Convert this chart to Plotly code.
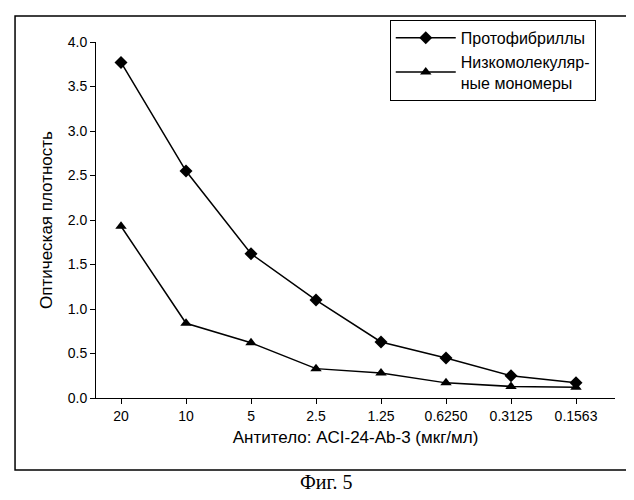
import plotly.graph_objects as go

categories = ["20", "10", "5", "2.5", "1.25", "0.6250", "0.3125", "0.1563"]
protofibrils = [3.77, 2.55, 1.62, 1.10, 0.63, 0.45, 0.25, 0.17]
monomers = [1.93, 0.84, 0.62, 0.33, 0.28, 0.17, 0.13, 0.12]

serif = "Liberation Serif, DejaVu Serif, serif"
sans = "Liberation Sans, Arial, sans-serif"
fig = go.Figure()
fig.add_trace(go.Scatter(x=list(range(8)), y=protofibrils, mode="lines+markers",
    name="Протофибриллы", line=dict(color="black", width=1.5),
    marker=dict(symbol="diamond", size=10, color="black")))
fig.add_trace(go.Scatter(x=list(range(8)), y=monomers, mode="lines+markers",
    name="Низкомолекуляр-<br>ные мономеры", line=dict(color="black", width=1.5),
    marker=dict(symbol="triangle-up", size=10, color="black")))

fig.update_layout(
    width=634, height=500, paper_bgcolor="white", plot_bgcolor="white",
    margin=dict(l=88, r=27, t=34, b=110),
    font=dict(family=sans, size=14, color="black"),
    xaxis=dict(range=[-0.385, 7.6], tickvals=list(range(8)), ticktext=categories,
               showline=True, linecolor="black", ticks="outside", tickcolor="black",
               showgrid=False, zeroline=False,
               title=dict(text="Антитело: ACI-24-Ab-3 (мкг/мл)", standoff=8)),
    yaxis=dict(range=[0, 4.0], dtick=0.5, tickformat=".1f", showline=True,
               linecolor="black", ticks="outside", tickcolor="black",
               showgrid=False, zeroline=False,
               title=dict(text="Оптическая плотность", standoff=10)),
    legend=dict(x=0.566, y=1.062, xanchor="left", yanchor="top",
                bordercolor="black", borderwidth=1, bgcolor="white",
                tracegroupgap=12, itemwidth=60,
                font=dict(family=sans, size=16)),
    shapes=[dict(type="rect", xref="paper", yref="paper", x0=-0.156, x1=1.0385,
                 y0=-0.202, y1=1.073, line=dict(color="black", width=1.5))],
    annotations=[dict(text="Фиг. 5", xref="paper", yref="paper", x=0.443, y=-0.272,
                      showarrow=False, font=dict(family=serif, size=20))],
)
fig.write_html("out.html")
